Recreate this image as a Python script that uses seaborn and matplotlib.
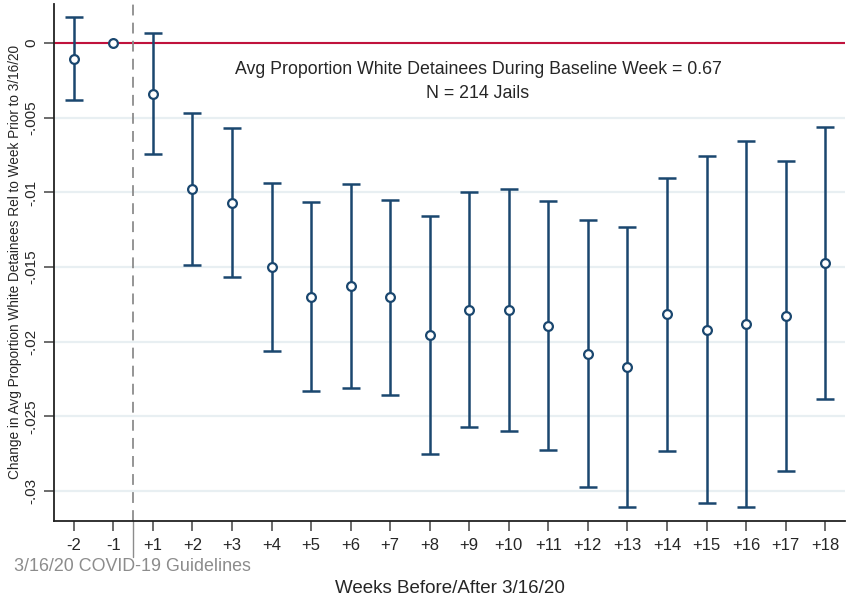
import numpy as np
import pandas as pd
import matplotlib
matplotlib.use("Agg")
import matplotlib.pyplot as plt
import seaborn as sns

# Event-study estimates: change in avg proportion of white detainees
weeks = ["-2", "-1", "+1", "+2", "+3", "+4", "+5", "+6", "+7", "+8", "+9",
         "+10", "+11", "+12", "+13", "+14", "+15", "+16", "+17", "+18"]
coef = [-0.00107, 0.0, -0.0034, -0.00979, -0.01071, -0.01497, -0.01698,
        -0.01624, -0.01702, -0.01954, -0.01785, -0.01787, -0.01892, -0.0208,
        -0.02169, -0.01816, -0.01919, -0.01881, -0.01827, -0.01473]
ci_hi = [0.00172, 0.0, 0.00067, -0.0047, -0.00569, -0.00937, -0.01064,
         -0.00942, -0.01053, -0.01158, -0.00999, -0.00977, -0.01058, -0.01183,
         -0.01231, -0.00901, -0.00759, -0.00654, -0.00788, -0.00564]
ci_lo = [-0.00382, 0.0, -0.00745, -0.01486, -0.01569, -0.0206, -0.02331,
         -0.02307, -0.02356, -0.02751, -0.0257, -0.02597, -0.02726, -0.02972,
         -0.03106, -0.02731, -0.03077, -0.03106, -0.02867, -0.02381]
yticks = [0, -0.005, -0.01, -0.015, -0.02, -0.025, -0.03]
ytick_labels = ["0", "-.005", "-.01", "-.015", "-.02", "-.025", "-.03"]

sns.set_theme(style="white")
plt.rcParams["font.family"] = ["Liberation Sans", "DejaVu Sans"]

navy = "#1a476f"
df = pd.DataFrame({"pos": np.arange(len(weeks)), "week": weeks,
                   "coef": coef, "lo": ci_lo, "hi": ci_hi})

fig = plt.figure(figsize=(8.47, 6.03), dpi=100)
ax = fig.add_axes([0.0638, 0.136, 0.9338, 0.8574])

# horizontal grid lines
for yt in yticks:
    ax.axhline(yt, color="#e8eff2", lw=1.6, zorder=0)

# reference line at zero
ax.axhline(0, color="#c0123c", lw=1.5, zorder=1)

# policy date marker
ax.axvline(1.5, color="#8c8c8c", lw=1.3, ls=(0, (6, 4)), zorder=1)
ax.plot([1.5, 1.5], [0, -0.07], transform=ax.get_xaxis_transform(),
        color="#8c8c8c", lw=1.0, clip_on=False)

# confidence intervals (reference week has none)
ci = df[df["week"] != "-1"]
ax.errorbar(ci["pos"], ci["coef"],
            yerr=[ci["coef"] - ci["lo"], ci["hi"] - ci["coef"]],
            fmt="none", ecolor=navy, elinewidth=1.8, capsize=6.5,
            capthick=1.8, zorder=2)

sns.scatterplot(data=df, x="pos", y="coef", ax=ax, marker="o", s=40,
                facecolor="white", edgecolor=navy, linewidth=1.6, zorder=3,
                legend=False)

ax.set_xlim(-0.5, 19.5)
ax.set_ylim(-0.032, 0.00262)
ax.set_xticks(df["pos"])
ax.set_xticklabels(weeks, fontsize=12)
ax.set_yticks(yticks)
ax.set_yticklabels(ytick_labels, fontsize=11, rotation=90, va="center")

for s in ["top", "right"]:
    ax.spines[s].set_visible(False)
for s in ["left", "bottom"]:
    ax.spines[s].set_color("#222222")
    ax.spines[s].set_linewidth(1.3)
ax.tick_params(axis="both", which="major", direction="out", length=7,
               width=1.1, color="#444444", left=True, bottom=True, pad=4)
ax.tick_params(axis="x", pad=5)

ax.set_xlabel("Weeks Before/After 3/16/20", fontsize=13.5, labelpad=20)
ax.set_ylabel("Change in Avg Proportion White Detainees Rel to Week Prior to 3/16/20",
              fontsize=9.8, labelpad=2)

ax.text(0.536, 0.873, "Avg Proportion White Detainees During Baseline Week = 0.67",
        transform=ax.transAxes, ha="center", va="center", fontsize=12.8)
ax.text(0.536, 0.826, "N = 214 Jails", transform=ax.transAxes,
        ha="center", va="center", fontsize=12.8)

fig.text(0.0165, 0.061, "3/16/20 COVID-19 Guidelines", color="#8c8c8c",
         fontsize=12.9, ha="left", va="center")

fig.savefig("out.png", dpi=100)
